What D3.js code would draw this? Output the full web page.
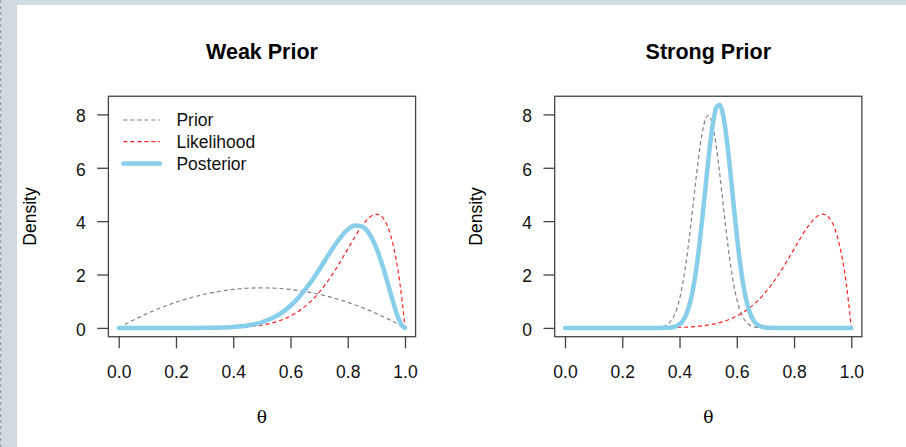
<!DOCTYPE html>
<html lang="en">
<head>
  <title>weak vs strong prior</title>
  <script type="text/javascript" src="https://cdn.jsdelivr.net/npm/d3@7"></script>
  <style>
    body {
      margin: 0px;
    }
    svg {
      display: block;
    }
  </style>
</head>
<body>
  <script type="text/javascript">
    // Data
    var panelTitles = ["Weak Prior", "Strong Prior"];
    var legendLabels = ["Prior", "Likelihood", "Posterior"];
    var xTicks = [0, 0.2, 0.4, 0.6, 0.8, 1.0];
    var yTicks = [0, 2, 4, 6, 8];

    // theta grid for the broad curves
    var thetaCoarse = [0, 0.05, 0.1, 0.15, 0.2, 0.25, 0.3, 0.35, 0.4, 0.45, 0.5, 0.55, 0.575, 0.6, 0.625,
      0.65, 0.675, 0.7, 0.725, 0.75, 0.775, 0.8, 0.825, 0.85, 0.875, 0.9, 0.925, 0.95, 0.975, 0.99, 1];
    var weakPrior = [0, 0.285, 0.54, 0.765, 0.96, 1.125, 1.26, 1.365, 1.44, 1.485, 1.5, 1.485, 1.466, 1.44, 1.406,
      1.365, 1.316, 1.26, 1.196, 1.125, 1.046, 0.96, 0.866, 0.765, 0.656, 0.54, 0.416, 0.285, 0.146, 0.059, 0];
    var likelihood = [0, 0, 0, 0, 0.0001, 0.0003, 0.0015, 0.0056, 0.0173, 0.0458, 0.1074, 0.228, 0.3212, 0.4434, 0.6003,
      0.7974, 1.0399, 1.3317, 1.6741, 2.0648, 2.4963, 2.9528, 3.4081, 3.8217, 4.1341, 4.2616, 4.0901, 3.4664, 2.1897, 1.0049, 0];
    var weakPosterior = [0, 0, 0, 0, 0, 0, 0.0025, 0.01, 0.0324, 0.0884, 0.2095, 0.4401, 0.6123, 0.8301, 1.0974,
      1.415, 1.7795, 2.1813, 2.6034, 3.0198, 3.3952, 3.6851, 3.838, 3.8007, 3.5269, 2.9917, 2.2132, 1.2843, 0.4163, 0.0776, 0];

    // finer theta grid for the narrow curves
    var thetaFine = [0, 0.1, 0.2, 0.3, 0.31, 0.32, 0.33, 0.34, 0.35, 0.36, 0.37, 0.38, 0.39, 0.4, 0.41, 0.42, 0.43, 0.44,
      0.45, 0.46, 0.47, 0.48, 0.49, 0.5, 0.51, 0.52, 0.53, 0.54, 0.55, 0.56, 0.57, 0.58, 0.59, 0.6, 0.61, 0.62, 0.63,
      0.64, 0.65, 0.66, 0.67, 0.68, 0.69, 0.7, 0.71, 0.72, 0.74, 0.76, 0.8, 0.9, 1];
    var strongPrior = [0, 0, 0, 0.0016, 0.0038, 0.0089, 0.0194, 0.04, 0.0783, 0.1457, 0.258, 0.435, 0.7, 1.077, 1.585, 2.234, 3.017, 3.91,
      4.864, 5.811, 6.67, 7.358, 7.805, 7.959, 7.805, 7.358, 6.67, 5.811, 4.864, 3.91, 3.017, 2.234, 1.585, 1.077, 0.7, 0.435, 0.258,
      0.1457, 0.0783, 0.04, 0.0194, 0.0089, 0.0038, 0.0016, 0.0006, 0.0002, 0, 0, 0, 0, 0];
    var strongPosterior = [0, 0, 0, 0, 0, 0.0002, 0.0005, 0.0013, 0.0032, 0.0076, 0.0169, 0.0357, 0.0714, 0.1357, 0.2453, 0.4222, 0.6927, 1.0848,
      1.6222, 2.319, 3.1705, 4.1481, 5.1941, 6.2293, 7.1538, 7.8691, 8.29, 8.363, 8.079, 7.468, 6.6045, 5.5837, 4.511, 3.4787, 2.5586, 1.7931, 1.1955,
      0.7572, 0.455, 0.2589, 0.1392, 0.0706, 0.0336, 0.0151, 0.0063, 0.0024, 0.0003, 0, 0, 0, 0];

    // Layout
    var width = 906;
    var height = 447;
    var panelShift = 446.3;
    var fontSans = "'Liberation Sans', Arial, sans-serif";
    var priorColor = "#7f7f7f";
    var likeColor = "#ff2020";
    var postColor = "#87ceeb";

    var svg = d3.select("body").append("svg")
      .attr("width", width)
      .attr("height", height);

    // Background with the grey page frame
    svg.append("rect")
      .attr("width", width)
      .attr("height", height)
      .attr("fill", "#d0dae0");
    svg.append("rect")
      .attr("x", 17)
      .attr("y", 5)
      .attr("width", width - 17)
      .attr("height", height - 5)
      .attr("fill", "white");
    svg.append("line")
      .attr("x1", 0.75).attr("x2", 0.75)
      .attr("y1", 0).attr("y2", height)
      .attr("stroke", "#9aa9b8")
      .attr("stroke-width", 1.5)
      .attr("stroke-dasharray", "3,3");

    var panels = [
      {title: panelTitles[0], prior: [thetaCoarse, weakPrior], post: [thetaCoarse, weakPosterior], legend: true},
      {title: panelTitles[1], prior: [thetaFine, strongPrior], post: [thetaFine, strongPosterior], legend: false}
    ];

    panels.forEach(function(p, i) {
      var x = d3.scaleLinear().domain([0, 1]).range([118.7 + i * panelShift, 405 + i * panelShift]);
      var y = d3.scaleLinear().domain([0, 8]).range([327.9, 114.4]);
      var g = svg.append("g");

      var line = d3.line()
        .x(function(d) { return x(d[0]); })
        .y(function(d) { return y(d[1]); })
        .curve(d3.curveMonotoneX);
      var pairs = function(xs, ys) { return xs.map(function(t, k) { return [t, ys[k]]; }); };

      // Curves
      g.append("path")
        .attr("d", line(pairs(p.prior[0], p.prior[1])))
        .attr("fill", "none")
        .attr("stroke", priorColor)
        .attr("stroke-width", 1.2)
        .attr("stroke-dasharray", "4,3");
      g.append("path")
        .attr("d", line(pairs(thetaCoarse, likelihood)))
        .attr("fill", "none")
        .attr("stroke", likeColor)
        .attr("stroke-width", 1.2)
        .attr("stroke-dasharray", "4,3");
      g.append("path")
        .attr("d", line(pairs(p.post[0], p.post[1])))
        .attr("fill", "none")
        .attr("stroke", postColor)
        .attr("stroke-width", 4.5)
        .attr("stroke-linecap", "round")
        .attr("stroke-linejoin", "round");

      // Plot frame (R style, 4% padding)
      var bx0 = x(-0.036), bx1 = x(1.037), by0 = y(-0.33), by1 = y(8.68);
      g.append("rect")
        .attr("x", bx0)
        .attr("y", by1)
        .attr("width", bx1 - bx0)
        .attr("height", by0 - by1)
        .attr("fill", "none")
        .attr("stroke", "#444")
        .attr("stroke-width", 1.3);

      // Axes
      var xAxis = g.append("g")
        .attr("transform", "translate(0," + by0 + ")")
        .call(d3.axisBottom(x).tickValues(xTicks).tickFormat(d3.format(".1f")).tickSize(11.6).tickPadding(17));
      var yAxis = g.append("g")
        .attr("transform", "translate(" + bx0 + ",0)")
        .call(d3.axisLeft(y).tickValues(yTicks).tickSize(11.2).tickPadding(11.5));
      [xAxis, yAxis].forEach(function(a) {
        a.select(".domain").remove();
        a.selectAll(".tick line").attr("stroke", "#444").attr("stroke-width", 1.3);
        a.selectAll("text")
          .attr("fill", "#111")
          .style("font-family", fontSans)
          .style("font-size", "17.5px");
      });
      yAxis.selectAll("text").attr("dy", "0.42em");

      // Titles and axis labels
      g.append("text")
        .attr("x", (bx0 + bx1) / 2)
        .attr("y", 59.3)
        .attr("text-anchor", "middle")
        .style("font-family", fontSans)
        .style("font-weight", "bold")
        .style("font-size", "21.5px")
        .text(p.title);
      g.append("text")
        .attr("x", (bx0 + bx1) / 2)
        .attr("y", 422.5)
        .attr("text-anchor", "middle")
        .style("font-family", "'DejaVu Serif', 'Liberation Serif', serif")
        .style("font-size", "17px")
        .text("\u03b8");
      g.append("text")
        .attr("transform", "translate(" + (36 + i * panelShift) + "," + ((by0 + by1) / 2) + ") rotate(-90)")
        .attr("text-anchor", "middle")
        .style("font-family", fontSans)
        .style("font-size", "17.5px")
        .text("Density");

      // Legend
      if (p.legend) {
        var legendStyles = [
          {color: priorColor, w: 1.2, dash: "4,3"},
          {color: likeColor, w: 1.2, dash: "4,3"},
          {color: postColor, w: 4.5, dash: null}
        ];
        var leg = g.selectAll(".legend")
          .data(legendLabels)
          .enter().append("g")
          .attr("class", "legend")
          .attr("transform", function(d, k) { return "translate(" + (bx0 + 15) + "," + (120 + k * 21.7) + ")"; });
        leg.append("line")
          .attr("x1", 0).attr("x2", 36.5)
          .attr("stroke", function(d, k) { return legendStyles[k].color; })
          .attr("stroke-width", function(d, k) { return legendStyles[k].w; })
          .attr("stroke-dasharray", function(d, k) { return legendStyles[k].dash; })
          .attr("stroke-linecap", function(d, k) { return k == 2 ? "round" : "butt"; });
        leg.append("text")
          .attr("x", 53)
          .attr("dy", "0.36em")
          .attr("fill", "#111")
          .style("font-family", fontSans)
          .style("font-size", "17.5px")
          .text(function(d) { return d; });
      }
    });
  </script>
</body>
</html>
